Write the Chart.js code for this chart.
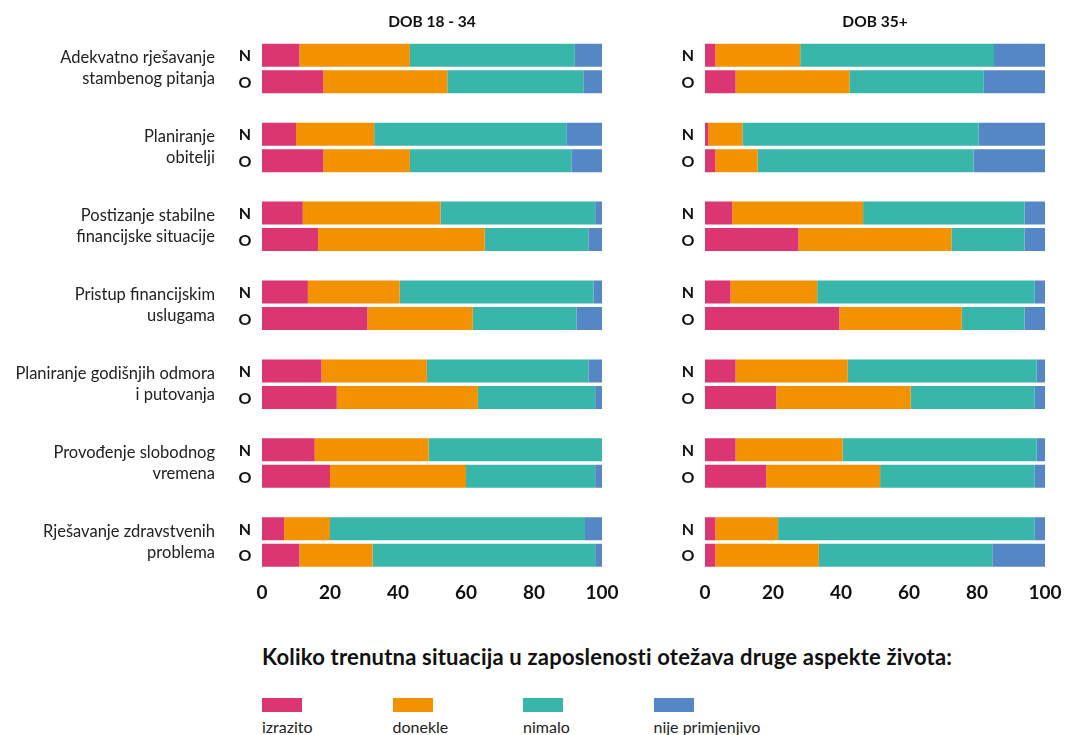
<!DOCTYPE html>
<html>
<head>
<meta charset="utf-8">
<script src="https://cdn.jsdelivr.net/npm/chart.js@4/dist/chart.umd.min.js"></script>
<style>
  body { margin: 0; background: #fff; font-family: Lato, sans-serif; color: #111; }
  #wrap { position: relative; width: 1067px; height: 735px; overflow: hidden; }
  .panel { position: absolute; top: 0; height: 620px; }
  #leftBox { left: 0; width: 625px; }
  #rightBox { left: 640px; width: 427px; }
  #question { position: absolute; left: 262px; top: 644px; font-size: 22px; line-height: 26px; letter-spacing: 0.2px; font-weight: 700; white-space: nowrap; }
  #legend { position: absolute; left: 262px; top: 698px; }
  .item { position: absolute; top: 0; width: 130px; }
  .swatch { width: 40px; height: 14px; }
  .item span { display: block; margin-top: 5px; font-size: 16px; color: #222; white-space: nowrap; }
</style>
</head>
<body>
<div id="wrap">
  <div class="panel" id="leftBox"><canvas id="leftChart"></canvas></div>
  <div class="panel" id="rightBox"><canvas id="rightChart"></canvas></div>
  <div id="question">Koliko trenutna situacija u zaposlenosti otežava druge aspekte života:</div>
  <div id="legend"></div>
</div>
<script>
const categories = [
  ['Adekvatno rješavanje', 'stambenog pitanja'],
  ['Planiranje', 'obitelji'],
  ['Postizanje stabilne', 'financijske situacije'],
  ['Pristup financijskim', 'uslugama'],
  ['Planiranje godišnjih odmora', 'i putovanja'],
  ['Provođenje slobodnog', 'vremena'],
  ['Rješavanje zdravstvenih', 'problema']
];
const answers = ['izrazito', 'donekle', 'nimalo', 'nije primjenjivo'];
const colors = ['#DB3572', '#F29200', '#38B6AA', '#5587C7'];
const xTicks = [0, 20, 40, 60, 80, 100];

// DOB 18 - 34
const youngN = [
  [11, 10, 12, 13.5, 17.5, 15.5, 6.5],
  [32.5, 23, 40.5, 27, 31, 33.5, 13.5],
  [48.5, 56.5, 45.5, 57, 47.5, 51, 75],
  [8, 10.5, 2, 2.5, 4, 0, 5]
];
const youngO = [
  [18, 18, 16.5, 31, 22, 20, 11],
  [36.5, 25.5, 49, 31, 41.5, 40, 21.5],
  [40, 47.5, 30.5, 30.5, 34.5, 38, 65.5],
  [5.5, 9, 4, 7.5, 2, 2, 2]
];
// DOB 35+
const oldN = [
  [3, 1, 8, 7.5, 9, 9, 3],
  [25, 10, 38.5, 25.5, 33, 31.5, 18.5],
  [57, 69.5, 47.5, 64, 55.5, 57, 75.5],
  [15, 19.5, 6, 3, 2.5, 2.5, 3]
];
const oldO = [
  [9, 3, 27.5, 39.5, 21, 18, 3],
  [33.5, 12.5, 45, 36, 39.5, 33.5, 30.5],
  [39.5, 63.5, 21.5, 18.5, 36.5, 45.5, 51],
  [18, 21, 6, 6, 3, 3, 15.5]
];

const FONT = 'Lato, sans-serif';

function makeDatasets(nSeries, oSeries) {
  const sets = [];
  nSeries.forEach((d, i) => sets.push({ label: answers[i], data: d, backgroundColor: colors[i], stack: 'N' }));
  oSeries.forEach((d, i) => sets.push({ label: answers[i], data: d, backgroundColor: colors[i], stack: 'O' }));
  return sets;
}

// draws panel title and the N / O row letters
const markers = {
  id: 'markers',
  afterDraw(chart, args, opts) {
    const c = chart.ctx;
    const area = chart.chartArea;
    c.save();
    c.fillStyle = '#111';
    c.textAlign = 'center';
    c.textBaseline = 'middle';
    c.font = 'bold 15.5px ' + FONT;
    c.fillText(opts.title, (area.left + area.right) / 2, 22);
    c.font = 'bold 16px ' + FONT;
    [[0, 'N'], [4, 'O']].forEach(([idx, letter]) => {
      chart.getDatasetMeta(idx).data.forEach(bar => {
        c.fillText(letter, area.left - 17, bar.y + 1);
      });
    });
    c.restore();
  }
};

function makeChart(id, datasets, title, yWidth, showLabels, padRight) {
  return new Chart(document.getElementById(id), {
    type: 'bar',
    data: { labels: categories, datasets: datasets },
    plugins: [markers],
    options: {
      indexAxis: 'y',
      responsive: true,
      maintainAspectRatio: false,
      animation: false,
      categoryPercentage: 0.671,
      barPercentage: 0.868,
      layout: { padding: { top: 29, right: padRight, left: 0, bottom: 0 } },
      plugins: {
        legend: { display: false },
        tooltip: { enabled: false },
        markers: { title: title }
      },
      scales: {
        x: {
          stacked: true,
          min: 0,
          max: 100,
          afterBuildTicks: s => { s.ticks = xTicks.map(v => ({ value: v })); },
          afterFit: s => { s.height = 38.5; },
          grid: { display: false, drawTicks: false },
          border: { display: false },
          ticks: { padding: 0, color: '#111', font: { family: FONT, size: 19, weight: 'bold' } }
        },
        y: {
          stacked: true,
          afterFit: s => {
            s.width = yWidth;
            s.paddingTop = 0;
            s.paddingBottom = 0;
          },
          grid: { display: false, drawTicks: false },
          border: { display: false },
          ticks: {
            display: showLabels,
            padding: 47,
            color: '#222',
            font: { family: FONT, size: 16.5, lineHeight: 1.27 }
          }
        }
      }
    }
  });
}

makeChart('leftChart', makeDatasets(youngN, youngO), 'DOB 18 - 34', 262, true, 23);
makeChart('rightChart', makeDatasets(oldN, oldO), 'DOB 35+', 65, false, 22);

const legend = document.getElementById('legend');
answers.forEach((a, i) => {
  const item = document.createElement('div');
  item.className = 'item';
  item.style.left = (i * 130.5) + 'px';
  item.innerHTML = '<div class="swatch" style="background:' + colors[i] + '"></div><span>' + a + '</span>';
  legend.appendChild(item);
});
</script>
</body>
</html>
